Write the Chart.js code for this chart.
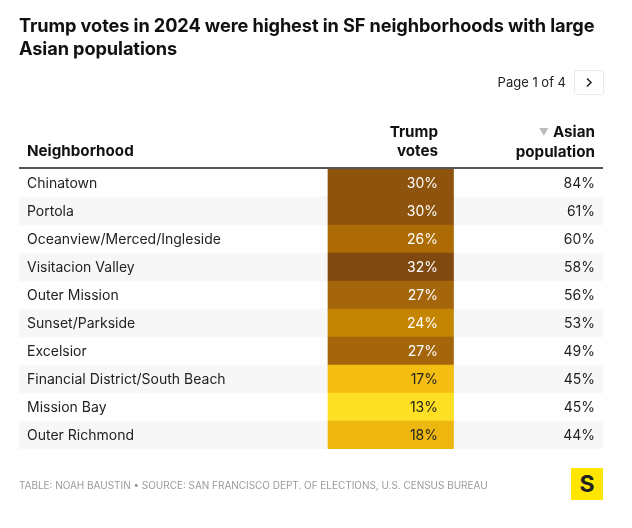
<!DOCTYPE html>
<html>
<head>
<meta charset="utf-8">
<script src="https://cdn.jsdelivr.net/npm/chart.js@4"></script>
<style>
  html, body { margin: 0; padding: 0; background: #fff; }
  body { width: 632px; height: 528px; position: relative; overflow: hidden; font-family: Inter, sans-serif; color: #111; }
  canvas { position: absolute; left: 0; top: 0; }
  .abs { position: absolute; white-space: nowrap; }
  #title { left: 19px; top: 14px; font-size: 18.2px; font-weight: 700; line-height: 23px; letter-spacing: -0.1px; }
  #page { right: 66px; top: 74px; font-size: 13px; line-height: 17px; color: #222; }
  #next { left: 574px; top: 70px; width: 28px; height: 23px; border: 1px solid #e8e8e8; border-radius: 3px; }
  #next svg { position: absolute; left: 9px; top: 6px; }
  .head { font-size: 15.2px; font-weight: 700; line-height: 19px; text-align: right; }
  #rule { left: 19px; top: 167px; width: 584px; height: 2px; background: #555; }
  #foot { left: 19px; top: 479px; font-size: 9.96px; line-height: 13px; color: #9a9a9a; }
  #logo { left: 571px; top: 468px; width: 32px; height: 32px; background: #ffe600; font-size: 23px; font-weight: 700; line-height: 33px; text-align: center; color: #222; }
</style>
</head>
<body>
<canvas id="table" width="632" height="528"></canvas>
<div class="abs" id="title">Trump votes in 2024 were highest in SF neighborhoods with large<br>Asian populations</div>
<div class="abs" id="page">Page 1 of 4</div>
<div class="abs" id="next"><svg width="10" height="11" viewBox="0 0 10 11"><path d="M3 1.5 L7 5.5 L3 9.5" fill="none" stroke="#222" stroke-width="1.5"/></svg></div>
<div class="abs head" style="left:27px;top:141px">Neighborhood</div>
<div class="abs head" style="right:194px;top:122px">Trump<br>votes</div>
<div class="abs head" style="right:37px;top:122px"><span style="color:#bbb;font-size:10px;font-weight:400;margin-right:4px;vertical-align:1px">▼</span>Asian<br>population</div>
<div class="abs" id="rule"></div>
<div class="abs" id="foot">TABLE: NOAH BAUSTIN • SOURCE: SAN FRANCISCO DEPT. OF ELECTIONS, U.S. CENSUS BUREAU</div>
<div class="abs" id="logo">S</div>

<script>
const neighborhoods = ['Chinatown', 'Portola', 'Oceanview/Merced/Ingleside', 'Visitacion Valley', 'Outer Mission', 'Sunset/Parkside', 'Excelsior', 'Financial District/South Beach', 'Mission Bay', 'Outer Richmond'];
const trumpVotes = [30, 30, 26, 32, 27, 24, 27, 17, 13, 18];
const asianPopulation = [84, 61, 60, 58, 56, 53, 49, 45, 45, 44];

// colour ramp of the votes column
const ramp = [[13, '#fde023'], [17, '#f3bd12'], [18, '#eeb70f'], [24, '#c48503'], [26, '#ad6b05'], [27, '#a5650a'], [30, '#8e530d'], [32, '#80490f']];

function voteColor(v) {
    for (const stop of ramp) {
        if (v <= stop[0]) return stop[1];
    }
    return ramp[ramp.length - 1][1];
}

// column edges, in px from the left of the table
const tableWidth = 584;
const voteCol = [309, 434.5];

const cellLabels = {
    id: 'cellLabels',
    afterDatasetsDraw(chart) {
        const c = chart.ctx;
        const x = chart.scales.x;
        const y = chart.scales.y;
        c.save();
        c.font = '14px Inter';
        c.textAlign = 'right';
        c.textBaseline = 'middle';
        neighborhoods.forEach((n, i) => {
            const py = y.getPixelForValue(i) + 1;
            c.fillStyle = trumpVotes[i] >= 24 ? '#fff' : '#222';
            c.fillText(trumpVotes[i] + '%', x.getPixelForValue(419), py);
            c.fillStyle = '#222';
            c.fillText(asianPopulation[i] + '%', x.getPixelForValue(576), py);
        });
        c.restore();
    }
};

new Chart(document.getElementById('table'), {
    type: 'bar',
    data: {
        labels: neighborhoods,
        datasets: [
            {
                label: 'Trump votes',
                data: neighborhoods.map(() => voteCol),
                backgroundColor: trumpVotes.map(voteColor),
                order: 1
            },
            {
                label: 'stripes',
                data: neighborhoods.map((n, i) => (i % 2 ? [0, tableWidth] : null)),
                backgroundColor: '#f7f7f7',
                order: 2
            }
        ]
    },
    options: {
        indexAxis: 'y',
        responsive: false,
        animation: false,
        devicePixelRatio: 1,
        layout: { padding: { left: 19, right: 29, top: 169, bottom: 79 } },
        plugins: { legend: { display: false }, tooltip: { enabled: false } },
        datasets: { bar: { grouped: false, barPercentage: 1, categoryPercentage: 1 } },
        scales: {
            x: { display: false, min: 0, max: tableWidth },
            y: {
                afterFit(scale) { scale.width = 0; },
                grid: { display: false },
                border: { display: false },
                ticks: { mirror: true, z: 1, padding: 8, labelOffset: 1, color: '#222', font: { family: 'Inter', size: 14 }, autoSkip: false }
            }
        }
    },
    plugins: [cellLabels]
});
</script>
</body>
</html>
